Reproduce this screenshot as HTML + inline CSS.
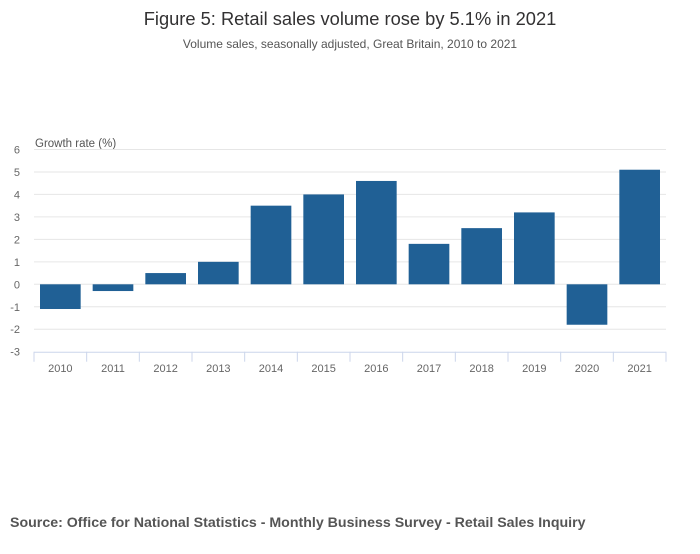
<!DOCTYPE html>
<html><head><meta charset="utf-8"><style>
body{margin:0;background:#fff;font-family:"Liberation Sans",sans-serif}
svg text{font-family:"Liberation Sans",sans-serif}
</style></head><body>
<svg width="700" height="549">
<text x="350" y="25" text-anchor="middle" font-size="18.3" fill="#323132">Figure 5: Retail sales volume rose by 5.1% in 2021</text>
<text x="350" y="48" text-anchor="middle" font-size="12" fill="#555">Volume sales, seasonally adjusted, Great Britain, 2010 to 2021</text>
<text x="35" y="147" font-size="11.5" fill="#555">Growth rate (%)</text>
<g id="grid"></g><g id="bars"></g><g id="xaxis"></g>
<text x="10" y="527" font-size="14.2" font-weight="bold" fill="#555">Source: Office for National Statistics - Monthly Business Survey - Retail Sales Inquiry</text>
</svg>
<script>
const categories=["2010","2011","2012","2013","2014","2015","2016","2017","2018","2019","2020","2021"];
const values=[-1.1,-0.3,0.5,1.0,3.5,4.0,4.6,1.8,2.5,3.2,-1.8,5.1];
const yTicks=[6,5,4,3,2,1,0,-1,-2,-3];
const NS="http://www.w3.org/2000/svg";
const L=34,R=666,yTop=149.5,yBot=351.7,yMax=6,yMin=-3;
const y=v=>yTop+(yMax-v)*(yBot-yTop)/(yMax-yMin);
const bw=(R-L)/categories.length;
const x=i=>L+i*bw;
function mk(t,a,p){const e=document.createElementNS(NS,t);for(const k in a)e.setAttribute(k,a[k]);p.appendChild(e);return e;}
const g=document.getElementById('grid'),b=document.getElementById('bars'),xa=document.getElementById('xaxis');
yTicks.forEach(v=>{
 if(v!==yMin){const l=mk('line',{x1:L,x2:R,y1:y(v),y2:y(v),stroke:'#e6e6e6','stroke-width':1},g);
 
 }
 const t=mk('text',{x:20,y:y(v)+4,'text-anchor':'end','font-size':11,fill:'#666'},g);t.textContent=v;
 
 
});
const ax=mk('line',{x1:L,x2:R,y1:yBot+0.5,y2:yBot+0.5,stroke:'#ccd6eb','stroke-width':1},xa);


for(let i=0;i<=categories.length;i++){const tk=mk('line',{x1:x(i),x2:x(i),y1:yBot,y2:yBot+10,stroke:'#ccd6eb'},xa);
 
 }
categories.forEach((c,i)=>{
 const v=values[i];const pad=6;
 const r=mk('rect',{x:x(i)+pad,width:bw-2*pad,y:Math.min(y(v),y(0)),height:Math.abs(y(v)-y(0)),fill:'#206095'},b);
 
 
 const t=mk('text',{x:x(i)+bw/2,y:372,'text-anchor':'middle','font-size':11,fill:'#666'},xa);t.textContent=c;
 
 
});
</script>
</body></html>
